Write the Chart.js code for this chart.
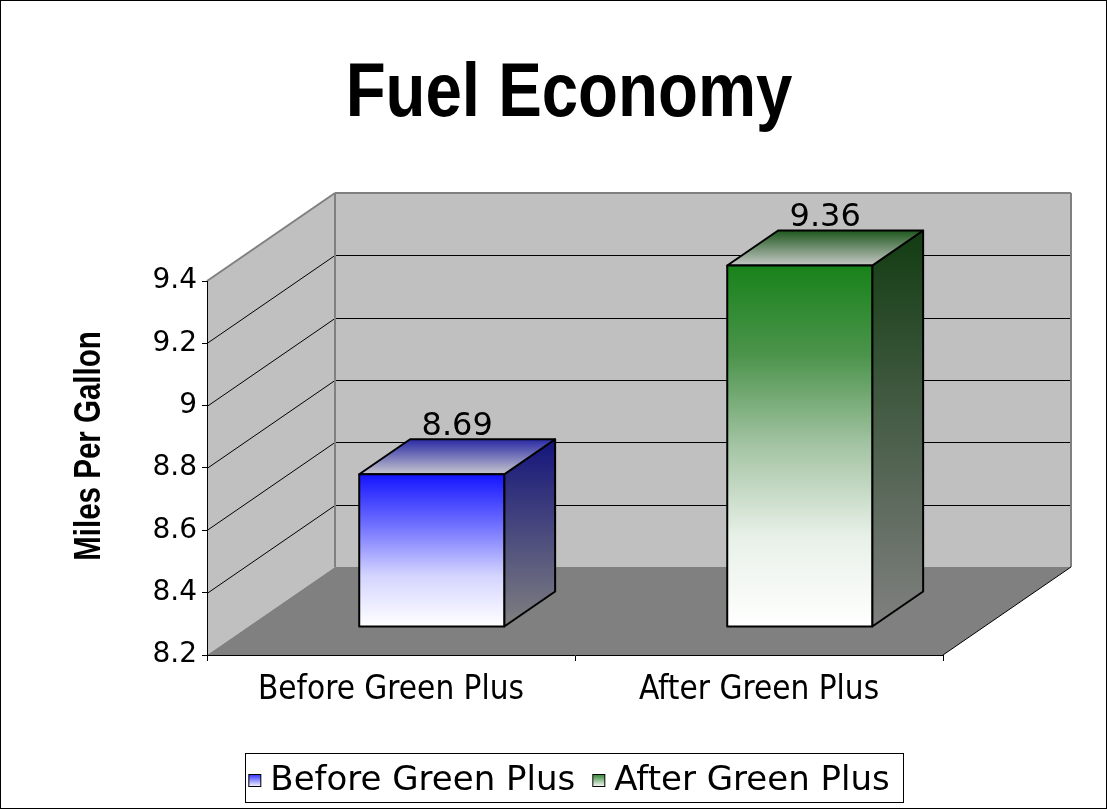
<!DOCTYPE html>
<html>
<head>
<meta charset="utf-8">
<title>Fuel Economy</title>
<script src="https://cdn.jsdelivr.net/npm/chart.js@4.4.1/dist/chart.umd.min.js"></script>
<style>
  html, body { margin: 0; padding: 0; background: #fff; }
  canvas { display: block; }
</style>
</head>
<body>
<canvas id="fuelChart" width="1107" height="809"></canvas>
<script>
// data
const chartTitle = "Fuel Economy";
const yTitle = "Miles Per Gallon";
const categories = ["Before Green Plus", "After Green Plus"];
const mpgValues = [8.69, 9.36];
const valueLabels = ["8.69", "9.36"];
const yTicks = [8.2, 8.4, 8.6, 8.8, 9, 9.2, 9.4];

// look of the 3d boxes
const barColors = [
  { front: ["#1414ff", "#7070ff", "#d4d4ff", "#ffffff"], side: ["#14147c", "#808080"], top: ["#2a2aa6", "#c6c6ce"], legend: "#3c3cff" },
  { front: ["#18821a", "#4c944c", "#a4c4a4", "#e8f0e8", "#ffffff"], side: ["#123c12", "#808080"], top: ["#1e581e", "#c6c8c6"], legend: "#3c8a3c" }
];
const DX = 128, DY = 88;            // depth of the floor in pixels
const BAR_FRONT = 28 / 88, BAR_BACK = 63 / 88;

const arial = "'Liberation Sans', Arial, sans-serif";
const verdana = "'DejaVu Sans', Verdana, sans-serif";
const tahoma = "'DejaVu Sans Condensed', 'DejaVu Sans', Tahoma, sans-serif";

// legend marker; drawn off-centre in a wider canvas so it sits near the text
function swatch(color) {
  const c = document.createElement("canvas");
  c.width = 40; c.height = 16;
  const g = c.getContext("2d");
  const gr = g.createLinearGradient(0, 2, 0, 14);
  gr.addColorStop(0, color);
  gr.addColorStop(1, "#ffffff");
  g.fillStyle = gr;
  g.fillRect(22, 2, 12, 12);
  g.strokeStyle = "#000";
  g.lineWidth = 1;
  g.strokeRect(21.5, 1.5, 12, 12);
  return c;
}
const swatches = barColors.map(c => swatch(c.legend));

function poly(ctx, pts) {
  ctx.beginPath();
  ctx.moveTo(pts[0][0], pts[0][1]);
  for (let i = 1; i < pts.length; i++) ctx.lineTo(pts[i][0], pts[i][1]);
  ctx.closePath();
}

function line(ctx, x1, y1, x2, y2) {
  ctx.beginPath();
  ctx.moveTo(x1, y1);
  ctx.lineTo(x2, y2);
  ctx.stroke();
}

function vGrad(ctx, y1, y2, stops) {
  const g = ctx.createLinearGradient(0, y1, 0, y2);
  stops.forEach((c, i) => g.addColorStop(i / (stops.length - 1), c));
  return g;
}

const box3d = {
  id: "box3d",
  beforeDraw(chart) {
    const ctx = chart.ctx;
    const xs = chart.scales.x, ys = chart.scales.y;
    const L = xs.left, R = xs.right;
    const T = ys.getPixelForValue(ys.max), B = ys.getPixelForValue(ys.min);
    ctx.save();
    // walls
    ctx.fillStyle = "#c0c0c0";
    poly(ctx, [[L, T], [L + DX, T - DY], [L + DX, B - DY], [L, B]]);
    ctx.fill();
    poly(ctx, [[L + DX, T - DY], [R + DX, T - DY], [R + DX, B - DY], [L + DX, B - DY]]);
    ctx.fill();
    // gridlines
    ctx.strokeStyle = "#000";
    ctx.lineWidth = 1;
    yTicks.forEach(v => {
      if (v <= ys.min || v >= ys.max) return;
      const y = Math.round(ys.getPixelForValue(v)) + 0.5;
      line(ctx, L, y, L + DX, y - DY);
      line(ctx, L + DX, y - DY, R + DX, y - DY);
    });
    // wall edges
    ctx.strokeStyle = "#808080";
    ctx.lineWidth = 2;
    line(ctx, L, T, L + DX, T - DY);
    line(ctx, L + DX, T - DY, R + DX, T - DY);
    line(ctx, R + DX, T - DY, R + DX, B - DY);
    line(ctx, L + DX, T - DY, L + DX, B - DY);
    // floor
    ctx.fillStyle = "#808080";
    poly(ctx, [[L, B], [R, B], [R + DX, B - DY], [L + DX, B - DY]]);
    ctx.fill();
    ctx.strokeStyle = "#000";
    ctx.lineWidth = 1;
    line(ctx, R, B, R + DX, B - DY);
    ctx.restore();
  },
  afterDatasetsDraw(chart) {
    const ctx = chart.ctx;
    const meta = chart.getDatasetMeta(0);
    const fx = DX * BAR_FRONT, fy = DY * BAR_FRONT;
    const dx = DX * (BAR_BACK - BAR_FRONT), dy = DY * (BAR_BACK - BAR_FRONT);
    ctx.save();
    ctx.lineWidth = 2;
    ctx.strokeStyle = "#000";
    ctx.lineJoin = "round";
    meta.data.forEach((bar, i) => {
      const col = barColors[i];
      const xl = bar.x - bar.width / 2 + fx, xr = bar.x + bar.width / 2 + fx;
      const yt = bar.y - fy, yb = bar.base - fy;
      // side
      ctx.fillStyle = vGrad(ctx, yt - dy, yb, col.side);
      poly(ctx, [[xr, yt], [xr + dx, yt - dy], [xr + dx, yb - dy], [xr, yb]]);
      ctx.fill(); ctx.stroke();
      // top
      ctx.fillStyle = vGrad(ctx, yt - dy, yt, col.top);
      poly(ctx, [[xl, yt], [xr, yt], [xr + dx, yt - dy], [xl + dx, yt - dy]]);
      ctx.fill(); ctx.stroke();
      // front
      ctx.fillStyle = vGrad(ctx, yt, yb, col.front);
      poly(ctx, [[xl, yt], [xr, yt], [xr, yb], [xl, yb]]);
      ctx.fill(); ctx.stroke();
      // value
      ctx.fillStyle = "#000";
      ctx.font = "32px " + verdana;
      ctx.textAlign = "center";
      ctx.textBaseline = "alphabetic";
      ctx.fillText(valueLabels[i], (xl + xr + dx) / 2, yt - dy - 4);
    });
    ctx.restore();
  },
  afterDraw(chart) {
    const ctx = chart.ctx;
    const hb = chart.legend.legendHitBoxes;
    ctx.save();
    ctx.strokeStyle = "#000";
    ctx.lineWidth = 1;
    ctx.strokeRect(0.5, 0.5, chart.width - 1, chart.height - 1);
    if (hb && hb.length) {
      const left = Math.min(...hb.map(h => h.left)) + 4;
      const right = Math.max(...hb.map(h => h.left + h.width)) + 14;
      const top = hb[0].top - 11;
      const bottom = hb[0].top + hb[0].height + 4;
      ctx.strokeRect(Math.round(left) + 0.5, Math.round(top) + 0.5, Math.round(right - left), Math.round(bottom - top));
    }
    // titles, narrow bold (Arial Narrow look)
    ctx.fillStyle = "#000";
    ctx.textAlign = "center";
    ctx.textBaseline = "alphabetic";
    ctx.font = "bold 76px " + arial;
    ctx.save();
    ctx.translate(569, 116);
    ctx.scale(0.86, 1);
    ctx.fillText(chartTitle, 0, 0);
    ctx.restore();
    ctx.font = "bold 36px " + arial;
    ctx.save();
    ctx.translate(100, 446);
    ctx.rotate(-Math.PI / 2);
    ctx.scale(0.82, 1);
    ctx.fillText(yTitle, 0, 0);
    ctx.restore();
    ctx.restore();
  }
};

new Chart(document.getElementById("fuelChart"), {
  type: "bar",
  data: {
    labels: categories,
    datasets: [
      {
        label: yTitle,
        data: mpgValues,
        base: 8.2,
        backgroundColor: "rgba(0,0,0,0)",
        borderWidth: 0,
        categoryPercentage: 1,
        barPercentage: 0.394,
      },
    ],
  },
  options: {
    responsive: false,
    animation: false,
    devicePixelRatio: 1,
    layout: { padding: { left: 24, right: 0, top: 281, bottom: 1 } },
    plugins: {
      title: { display: false },
      legend: {
        position: "bottom",
        labels: {
          color: "#000",
          font: { family: verdana, size: 34 },
          usePointStyle: true,
          pointStyleWidth: 12,
          padding: 10,
          generateLabels: () =>
            categories.map((name, i) => ({
              text: name,
              pointStyle: swatches[i],
              fillStyle: "rgba(0,0,0,0)",
              strokeStyle: "rgba(0,0,0,0)",
              lineWidth: 0,
              hidden: false,
              index: i,
              fontColor: "#000",
            })),
        },
        onClick: () => {},
      },
      tooltip: { enabled: false },
    },
    scales: {
      x: {
        grid: { drawOnChartArea: false, offset: true, color: "#000", tickLength: 6 },
        border: { color: "#000" },
        ticks: { color: "#000", font: { family: tahoma, size: 33 }, padding: 10 },
        afterFit(s) { s.height = 99; },
      },
      y: {
        min: 8.2,
        max: 9.4,
        afterBuildTicks(s) { s.ticks = yTicks.map(v => ({ value: v })); },
        grid: { drawOnChartArea: false, color: "#000", tickLength: 5 },
        border: { color: "#000" },
        ticks: {
          color: "#000",
          font: { family: verdana, size: 28 },
          padding: 5,
          callback: v => String(Math.round(v * 10) / 10),
        },
        afterFit(s) { s.width = 183; },
      },
      y2: {
        position: "right",
        display: true,
        grid: { display: false },
        ticks: { display: false },
        border: { display: false },
        afterFit(s) { s.width = 164; },
      },
    },
  },
  plugins: [box3d],
});
</script>
</body>
</html>
